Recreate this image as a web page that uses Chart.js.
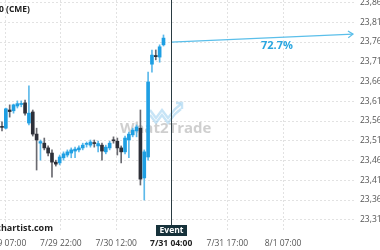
<!DOCTYPE html>
<html><head><meta charset="utf-8">
<script src="https://cdn.jsdelivr.net/npm/chart.js@4.4.1/dist/chart.umd.min.js"></script>
<style>html,body{margin:0;padding:0;background:#fff;overflow:hidden}canvas{display:block}</style>
</head><body>
<canvas id="c" width="380" height="250" style="width:380px;height:250px"></canvas>
<script>
// ---- data ----
const candleIndex = [0,1,2,3,4,5,6,7,8,9,10,11,12,13,14,15,16,17,18,19,20,21,22,23,24,25,26,27,28,29,30,31,32,33,34,35,36,37,38,39,40,41,42];
const opens  = [23549,23545,23591,23589,23601,23605,23609,23558,23586,23530,23507,23507,23495,23482,23459,23457,23470,23477,23482,23487,23490,23495,23504,23502,23507,23500,23502,23485,23495,23515,23512,23495,23485,23515,23528,23538,23545,23419,23472,23707,23729,23725,23756];
const highs  = [23561,23596,23604,23606,23614,23614,23616,23652,23591,23545,23515,23520,23500,23490,23464,23477,23485,23490,23495,23497,23500,23507,23510,23515,23515,23512,23507,23502,23512,23523,23520,23500,23525,23535,23545,23553,23591,23490,23687,23743,23743,23756,23781];
const lows   = [23538,23543,23573,23583,23596,23599,23578,23553,23525,23439,23464,23490,23475,23421,23449,23452,23464,23472,23470,23470,23485,23490,23497,23497,23497,23485,23464,23480,23490,23507,23477,23457,23480,23470,23523,23523,23401,23363,23464,23687,23718,23712,23753];
const closes = [23547,23594,23587,23604,23607,23606,23583,23583,23530,23515,23511,23495,23482,23459,23454,23472,23480,23485,23490,23492,23495,23502,23505,23510,23506,23506,23487,23497,23507,23513,23495,23485,23520,23530,23540,23548,23416,23485,23662,23730,23726,23751,23773];
const yTickValues = [23313,23363,23413,23463,23513,23563,23613,23663,23713,23763,23813,23863];
const xTickPositions = [0.9,15.3,29.7,44,58.6,73.1];
const xTickLabels = ['7/29 07:00','7/29 22:00','7/30 12:00','7/31 04:00','7/31 17:00','8/1 07:00'];
const eventIndex = 44;
const eventLabel = 'Event';
const forecastIndex = [44, 91.3];
const forecastPrice = [23763, 23783];
const forecastLabel = '72.7%';
const titleText = 'E-mini NASDAQ 100 (CME)';
const siteText = 'autochartist.com';
const watermarkText = 'What2Trade';

const BLUE = '#1e9fe3', DARK = '#2d2f38';
const isUp = candleIndex.map((_, i) => closes[i] >= opens[i]);
const bodyData = candleIndex.map((x, i) => ({x, y: [opens[i], closes[i]]}));
const wickData = candleIndex.map((x, i) => ({x, y: [lows[i], highs[i]]}));
const forecastData = forecastIndex.map((x, i) => ({x, y: forecastPrice[i]}));

const FONT = '"Open Sans", "Noto Sans", sans-serif';

const overlay = {
  id: 'overlay',
  beforeDatasetsDraw(chart) {
    const ctx = chart.ctx;
    ctx.save();
    // watermark logo
    ctx.strokeStyle = 'rgba(130,195,235,0.45)';
    ctx.lineWidth = 2.4;
    for (const off of [0, 5]) {
      ctx.beginPath();
      const pts = [[150,110],[156,118],[162,110],[168,118],[175,109],[181,104]];
      pts.forEach((p, k) => k ? ctx.lineTo(p[0], p[1] + off) : ctx.moveTo(p[0], p[1] + off));
      ctx.stroke();
    }
    ctx.beginPath();
    ctx.moveTo(176,103); ctx.lineTo(182,103); ctx.lineTo(182,109); ctx.stroke();
    ctx.font = 'bold 15px ' + FONT;
    ctx.fillStyle = 'rgba(175,175,175,0.6)';
    ctx.textBaseline = 'alphabetic';
    ctx.textAlign = 'left';
    ctx.fillText(watermarkText, 120, 133);
    ctx.restore();
  },
  afterDatasetsDraw(chart) {
    const ctx = chart.ctx, xs = chart.scales.x, ys = chart.scales.y;
    ctx.save();
    // event line
    const ex = Math.round(xs.getPixelForValue(eventIndex)) + 0.5;
    ctx.strokeStyle = '#2a3b42';
    ctx.lineWidth = 1;
    ctx.beginPath(); ctx.moveTo(ex, 0); ctx.lineTo(ex, 226); ctx.stroke();
    ctx.fillStyle = '#17323b';
    ctx.fillRect(ex - 15.5, 225, 31, 11);
    ctx.fillStyle = '#fff';
    ctx.font = 'bold 8.5px ' + FONT;
    ctx.textAlign = 'center'; ctx.textBaseline = 'middle';
    ctx.fillText(eventLabel, ex, 230.5);
    // arrow head
    const x0 = xs.getPixelForValue(forecastIndex[0]), y0 = ys.getPixelForValue(forecastPrice[0]);
    const x1 = xs.getPixelForValue(forecastIndex[1]), y1 = ys.getPixelForValue(forecastPrice[1]);
    const a = Math.atan2(y1 - y0, x1 - x0);
    ctx.strokeStyle = '#5bbfea'; ctx.lineWidth = 1.2;
    ctx.beginPath();
    ctx.moveTo(x1 - 6 * Math.cos(a - 0.6), y1 - 6 * Math.sin(a - 0.6));
    ctx.lineTo(x1, y1);
    ctx.lineTo(x1 - 6 * Math.cos(a + 0.6), y1 - 6 * Math.sin(a + 0.6));
    ctx.stroke();
    // percentage
    const tx = xs.getPixelForValue(71.5);
    const ty = y0 + (y1 - y0) * (tx - x0) / (x1 - x0) + 8;
    ctx.fillStyle = '#2aa6e0';
    ctx.font = 'bold 11px ' + FONT;
    ctx.textAlign = 'center'; ctx.textBaseline = 'middle';
    ctx.fillText(forecastLabel, tx, ty);
    // texts
    ctx.fillStyle = '#222';
    ctx.font = 'bold 8.5px ' + FONT;
    ctx.textAlign = 'right'; ctx.textBaseline = 'middle';
    ctx.fillText(titleText, 30, 10);
    ctx.font = 'bold 9px ' + FONT;
    ctx.fillText(siteText, 53, 228);
    ctx.restore();
  }
};

new Chart(document.getElementById('c'), {
  type: 'bar',
  data: {
    datasets: [
      { type: 'line', data: forecastData, borderColor: '#5bbfea', borderWidth: 1.2, pointRadius: 0, fill: false, order: 0 },
      { data: bodyData, backgroundColor: isUp.map(u => u ? BLUE : DARK), barThickness: 3, minBarLength: 1, grouped: false, order: 1 },
      { data: wickData, backgroundColor: isUp.map(u => u ? '#5cb9ea' : '#6a6a70'), barThickness: 1, grouped: false, order: 2 }
    ]
  },
  options: {
    responsive: false, animation: false, devicePixelRatio: 1,
    layout: { padding: 0 },
    plugins: { legend: { display: false }, tooltip: { enabled: false } },
    scales: {
      x: {
        type: 'linear', min: -0.52, max: 92.07, offset: false,
        grid: { color: '#e2e2e2', drawTicks: false, offset: false },
        border: { display: false, dash: [2, 2] },
        afterBuildTicks: s => { s.ticks = xTickPositions.map(v => ({ value: v })); },
        afterFit: s => { s.height = 18; s.paddingLeft = 0; s.paddingRight = 0; },
        ticks: {
          autoSkip: false, maxRotation: 0, padding: 6,
          callback: (v, i) => xTickLabels[i],
          color: c => c.index === 3 ? '#222' : '#555',
          font: c => ({ family: FONT, size: 8.5, weight: c.index === 3 ? 'bold' : 'normal' })
        }
      },
      y: {
        position: 'right', min: 23282.1, max: 23869.5,
        grid: { color: '#e2e2e2', drawTicks: false },
        border: { display: false, dash: [2, 2] },
        afterBuildTicks: s => { s.ticks = yTickValues.map(v => ({ value: v })); },
        afterFit: s => { s.width = 24; s.paddingTop = 0; s.paddingBottom = 0; },
        ticks: {
          padding: 4, color: '#555', font: { family: FONT, size: 8.5 },
          callback: v => v.toLocaleString('en-US', { minimumFractionDigits: 2, maximumFractionDigits: 2 })
        }
      }
    }
  },
  plugins: [overlay]
});
</script>
</body></html>
